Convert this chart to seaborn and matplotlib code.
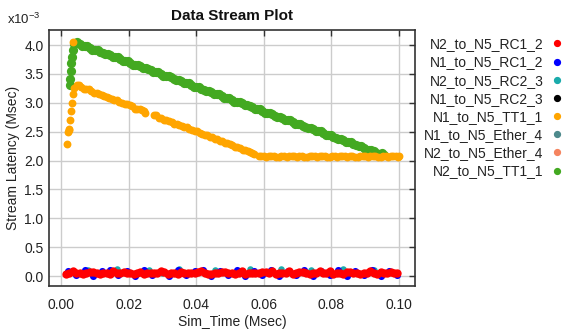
import matplotlib
matplotlib.use("Agg")
import matplotlib.pyplot as plt
import pandas as pd
import seaborn as sns
from matplotlib.lines import Line2D

# ---------------- data (latency in units of 1e-3 Msec) ----------------
streams = ["N2_to_N5_RC1_2", "N1_to_N5_RC1_2", "N2_to_N5_RC2_3", "N1_to_N5_RC2_3",
           "N1_to_N5_TT1_1", "N1_to_N5_Ether_4", "N2_to_N5_Ether_4", "N2_to_N5_TT1_1"]
colors = ["#FF0000", "#0000FF", "#1AABAB", "#000000",
          "#FFA500", "#4E8A8C", "#F5845F", "#43A921"]

green_x = [0.0027, 0.0028, 0.0029, 0.0031, 0.0033, 0.0036, 0.0039,
           0.0041, 0.0055, 0.0070, 0.0085, 0.0100, 0.0115, 0.0130, 0.0145, 0.0160, 0.0175,
           0.0190, 0.0205, 0.0220, 0.0235, 0.0250, 0.0265, 0.0280, 0.0295, 0.0310, 0.0325,
           0.0340, 0.0355, 0.0370, 0.0385, 0.0400, 0.0415, 0.0430, 0.0445, 0.0460, 0.0475,
           0.0490, 0.0505, 0.0520, 0.0535, 0.0550, 0.0565, 0.0580, 0.0595, 0.0610, 0.0625,
           0.0640, 0.0655, 0.0670, 0.0685, 0.0700, 0.0715, 0.0730, 0.0745, 0.0760, 0.0775,
           0.0790, 0.0805, 0.0820, 0.0835, 0.0850, 0.0865, 0.0880, 0.0895, 0.0910, 0.0925,
           0.0940, 0.0955,
           0.0048, 0.0063, 0.0078, 0.0093, 0.0108, 0.0123, 0.0138, 0.0153, 0.0168, 0.0183,
           0.0198, 0.0213, 0.0228, 0.0243, 0.0258, 0.0273, 0.0288, 0.0303, 0.0318, 0.0333,
           0.0348, 0.0363, 0.0378, 0.0393, 0.0408, 0.0423, 0.0438, 0.0453, 0.0468, 0.0483,
           0.0498, 0.0513, 0.0528, 0.0543, 0.0558, 0.0573, 0.0588, 0.0603, 0.0618, 0.0633,
           0.0648, 0.0663, 0.0678, 0.0693, 0.0708, 0.0723, 0.0738, 0.0753, 0.0768, 0.0783,
           0.0798, 0.0813, 0.0828, 0.0843, 0.0858, 0.0873, 0.0888, 0.0903, 0.0918, 0.0933,
           0.0948]
green_y = [3.30, 3.42, 3.55, 3.68, 3.80, 3.92, 4.02,
           4.04, 4.01, 3.98, 3.95, 3.91, 3.88, 3.85, 3.82, 3.79, 3.75,
           3.72, 3.69, 3.66, 3.63, 3.60, 3.56, 3.53, 3.50, 3.47, 3.44,
           3.40, 3.37, 3.34, 3.31, 3.28, 3.24, 3.21, 3.18, 3.15, 3.12,
           3.08, 3.05, 3.02, 2.99, 2.96, 2.92, 2.89, 2.86, 2.83, 2.80,
           2.76, 2.73, 2.70, 2.67, 2.64, 2.60, 2.57, 2.54, 2.51, 2.48,
           2.44, 2.41, 2.38, 2.35, 2.32, 2.28, 2.25, 2.22, 2.19, 2.16,
           2.12, 2.10,
           4.05, 3.98, 3.98, 3.92, 3.92, 3.86, 3.85, 3.79, 3.79, 3.73,
           3.72, 3.66, 3.66, 3.60, 3.59, 3.54, 3.53, 3.47, 3.47, 3.41,
           3.40, 3.34, 3.34, 3.28, 3.27, 3.22, 3.21, 3.15, 3.15, 3.09,
           3.08, 3.02, 3.02, 2.96, 2.95, 2.90, 2.89, 2.83, 2.83, 2.77,
           2.76, 2.70, 2.70, 2.64, 2.63, 2.58, 2.57, 2.51, 2.51, 2.45,
           2.44, 2.39, 2.38, 2.32, 2.32, 2.26, 2.25, 2.19, 2.19, 2.13,
           2.13]

orange_x = [0.0017, 0.0021, 0.0023, 0.0025, 0.0028, 0.0030, 0.0032, 0.0035, 0.0039, 0.0046,
            0.0035,
            0.0060, 0.0075, 0.0090, 0.0105, 0.0120, 0.0135, 0.0150, 0.0165, 0.0180, 0.0195,
            0.0210, 0.0225, 0.0240, 0.0248,
            0.0275, 0.0290, 0.0305, 0.0320, 0.0335, 0.0350, 0.0365, 0.0380, 0.0395, 0.0410,
            0.0425, 0.0440, 0.0455, 0.0470, 0.0485, 0.0500, 0.0515, 0.0530, 0.0545, 0.0560,
            0.0570,
            0.0585, 0.0600, 0.0615, 0.0630, 0.0645, 0.0660, 0.0675, 0.0690, 0.0705, 0.0720,
            0.0735, 0.0750, 0.0765, 0.0780, 0.0795, 0.0810, 0.0825, 0.0840, 0.0855, 0.0870,
            0.0885, 0.0900, 0.0915, 0.0930, 0.0945, 0.0960, 0.0975, 0.0990, 0.1000,
            0.0053, 0.0068, 0.0083, 0.0098, 0.0113, 0.0128, 0.0143, 0.0158, 0.0173, 0.0188,
            0.0203, 0.0218, 0.0233, 0.0244,
            0.0282, 0.0297, 0.0312, 0.0327, 0.0342, 0.0357, 0.0372, 0.0387, 0.0402, 0.0417,
            0.0432, 0.0447, 0.0462, 0.0477, 0.0492, 0.0507, 0.0522, 0.0537, 0.0552, 0.0565,
            0.0592, 0.0607, 0.0622, 0.0637, 0.0652, 0.0667, 0.0682, 0.0697, 0.0712, 0.0727,
            0.0742, 0.0757, 0.0772, 0.0787, 0.0802, 0.0817, 0.0832, 0.0847, 0.0862, 0.0877,
            0.0892, 0.0907, 0.0922, 0.0937, 0.0952, 0.0967, 0.0982, 0.0996]
orange_y = [2.29, 2.50, 2.55, 2.52, 2.70, 2.85, 3.00, 3.15, 3.26, 3.30,
            4.06,
            3.27, 3.24, 3.20, 3.17, 3.14, 3.10, 3.07, 3.04, 3.00, 2.97,
            2.94, 2.90, 2.87, 2.83,
            2.78, 2.74, 2.71, 2.68, 2.64, 2.61, 2.58, 2.54, 2.51, 2.48,
            2.44, 2.41, 2.38, 2.34, 2.31, 2.28, 2.24, 2.21, 2.18, 2.14,
            2.12,
            2.07, 2.07, 2.08, 2.07, 2.06, 2.07, 2.08, 2.07, 2.07, 2.06,
            2.07, 2.08, 2.07, 2.07, 2.06, 2.07, 2.08, 2.07, 2.07, 2.06,
            2.07, 2.08, 2.07, 2.07, 2.06, 2.07, 2.08, 2.07, 2.07,
            3.30, 3.24, 3.23, 3.17, 3.16, 3.11, 3.09, 3.04, 3.02, 2.97,
            2.96, 2.90, 2.89, 2.85,
            2.78, 2.73, 2.71, 2.66, 2.64, 2.60, 2.58, 2.53, 2.51, 2.46,
            2.44, 2.40, 2.37, 2.33, 2.31, 2.26, 2.24, 2.19, 2.17, 2.13,
            2.08, 2.06, 2.08, 2.06, 2.08, 2.06, 2.08, 2.06, 2.08, 2.06,
            2.08, 2.06, 2.08, 2.06, 2.08, 2.06, 2.08, 2.06, 2.08, 2.06,
            2.08, 2.06, 2.08, 2.06, 2.08, 2.06, 2.08, 2.06]

red_x = [0.0015, 0.0035, 0.0055, 0.0075, 0.0095, 0.0115, 0.0135, 0.0155, 0.0175, 0.0195,
         0.0215, 0.0235, 0.0255, 0.0275, 0.0295, 0.0315, 0.0335, 0.0355, 0.0375, 0.0395,
         0.0415, 0.0435, 0.0455, 0.0475, 0.0495, 0.0515, 0.0535, 0.0555, 0.0575, 0.0595,
         0.0615, 0.0635, 0.0655, 0.0675, 0.0695, 0.0715, 0.0735, 0.0755, 0.0775, 0.0795,
         0.0815, 0.0835, 0.0855, 0.0875, 0.0895, 0.0915, 0.0935, 0.0955, 0.0975, 0.0995,
         0.0025, 0.0045, 0.0065, 0.0085, 0.0105, 0.0125, 0.0145, 0.0165, 0.0185, 0.0205,
         0.0225, 0.0245, 0.0265, 0.0285, 0.0305, 0.0325, 0.0345, 0.0365, 0.0385, 0.0405,
         0.0425, 0.0445, 0.0465, 0.0485, 0.0505, 0.0525, 0.0545, 0.0565, 0.0585, 0.0605,
         0.0625, 0.0645, 0.0665, 0.0685, 0.0705, 0.0725, 0.0745, 0.0765, 0.0785, 0.0805,
         0.0825, 0.0845, 0.0865, 0.0885, 0.0905, 0.0925, 0.0945, 0.0965, 0.0985]
red_y = [0.04, 0.08, 0.06, 0.05, 0.07, 0.04, 0.06, 0.08, 0.05, 0.06,
         0.04, 0.07, 0.06, 0.05, 0.08, 0.04, 0.06, 0.07, 0.05, 0.06,
         0.08, 0.04, 0.05, 0.07, 0.06, 0.04, 0.08, 0.06, 0.05, 0.07,
         0.06, 0.04, 0.05, 0.08, 0.06, 0.07, 0.04, 0.06, 0.05, 0.09,
         0.06, 0.04, 0.07, 0.05, 0.06, 0.08, 0.04, 0.06, 0.07, 0.05,
         0.06, 0.05, 0.04, 0.07, 0.06, 0.05, 0.03, 0.06, 0.07, 0.05,
         0.06, 0.04, 0.06, 0.05, 0.07, 0.06, 0.04, 0.05, 0.06, 0.07,
         0.05, 0.04, 0.06, 0.07, 0.05, 0.06, 0.04, 0.06, 0.05, 0.07,
         0.08, 0.05, 0.06, 0.04, 0.07, 0.06, 0.05, 0.09, 0.06, 0.04,
         0.06, 0.07, 0.05, 0.04, 0.06, 0.05, 0.07, 0.05, 0.06]

blue_x = [0.0020, 0.0045, 0.0070, 0.0095, 0.0120, 0.0145, 0.0170, 0.0195, 0.0220, 0.0245,
          0.0270, 0.0295, 0.0320, 0.0345, 0.0370, 0.0395, 0.0420, 0.0445, 0.0470, 0.0495,
          0.0520, 0.0545, 0.0570, 0.0595, 0.0620, 0.0645, 0.0670, 0.0695, 0.0720, 0.0745,
          0.0770, 0.0795, 0.0820, 0.0845, 0.0870, 0.0895, 0.0920, 0.0945, 0.0970, 0.0995]
blue_y = [0.09, 0.01, 0.10, 0.00, 0.08, 0.10, 0.01, 0.09, 0.00, 0.10,
          0.02, 0.09, 0.00, 0.10, 0.01, 0.09, 0.10, 0.00, 0.09, 0.01,
          0.10, 0.00, 0.09, 0.01, 0.10, 0.00, 0.09, 0.01, 0.10, 0.00,
          0.09, 0.01, 0.10, 0.00, 0.09, 0.01, 0.10, 0.00, 0.09, 0.01]

cyan_x = [0.0080, 0.0165, 0.0260, 0.0350, 0.0455, 0.0560, 0.0650, 0.0740, 0.0835, 0.0925]
cyan_y = [0.11, 0.12, 0.11, 0.12, 0.11, 0.12, 0.12, 0.11, 0.12, 0.11]

black_x = [0.0200, 0.0500, 0.0800]
black_y = [0.05, 0.05, 0.05]
teal_x = [0.0300, 0.0600, 0.0900]
teal_y = [0.05, 0.05, 0.05]
salmon_x = [0.0100, 0.0400, 0.0700]
salmon_y = [0.05, 0.05, 0.05]

series_x = [red_x, blue_x, cyan_x, black_x, orange_x, teal_x, salmon_x, green_x]
series_y = [red_y, blue_y, cyan_y, black_y, orange_y, teal_y, salmon_y, green_y]
sizes = [36, 26, 22, 22, 32, 22, 22, 44]

x_ticks = [0.00, 0.02, 0.04, 0.06, 0.08, 0.10]
x_tick_labels = ["0.00", "0.02", "0.04", "0.06", "0.08", "0.10"]
y_ticks = [0.0, 0.5, 1.0, 1.5, 2.0, 2.5, 3.0, 3.5, 4.0]
y_tick_labels = ["0.0", "0.5", "1.0", "1.5", "2.0", "2.5", "3.0", "3.5", "4.0"]

# ---------------- plot ----------------
sns.set_theme(style="white")
plt.rcParams["font.family"] = ["Liberation Sans", "DejaVu Sans"]
plt.rcParams["mathtext.default"] = "regular"
txt = "#222222"

fig = plt.figure(figsize=(5.67, 3.32), dpi=100)
ax = fig.add_axes([49 / 567, 46 / 332, 366 / 567, 256 / 332])

# draw in reverse legend order so red ends on top, green at the bottom
for i in reversed(range(len(streams))):
    df = pd.DataFrame({"Sim_Time": series_x[i], "Latency": series_y[i]})
    sns.scatterplot(data=df, x="Sim_Time", y="Latency", ax=ax, color=colors[i],
                    s=sizes[i], linewidth=0, legend=False, zorder=3)

ax.set_xlim(-0.00355, 0.1047)
ax.set_ylim(-0.173, 4.26)
ax.set_xticks(x_ticks)
ax.set_xticklabels(x_tick_labels)
ax.set_yticks(y_ticks)
ax.set_yticklabels(y_tick_labels)
ax.grid(True, color="#cccccc", linewidth=1.0, zorder=0)
ax.set_axisbelow(True)
for sp in ax.spines.values():
    sp.set_color("#333333")
    sp.set_linewidth(1.2)
ax.tick_params(axis="both", direction="in", length=4.5, width=1, color="#333333",
               top=True, right=True, labelsize=10, labelcolor=txt)
ax.tick_params(axis="x", pad=8.5)
ax.tick_params(axis="y", pad=4)

ax.set_xlabel("Sim_Time (Msec)", fontsize=10, color=txt, labelpad=2)
ax.set_ylabel("Stream Latency (Msec)", fontsize=10, color=txt, labelpad=3)
ax.set_title("Data Stream Plot", fontsize=11, fontweight="bold", color="#111111", pad=7)

fig.text(7 / 567, 1 - 24 / 332, "x10$^{-3}$", fontsize=9.5, color=txt, ha="left", va="baseline")

handles = [Line2D([], [], marker="o", linestyle="", color=c, markersize=4.2) for c in colors]
fig.legend(handles, streams, loc="upper right", bbox_to_anchor=(569 / 567, 1 - 29 / 332),
           frameon=False, markerfirst=False, fontsize=10, labelspacing=0.3,
           handletextpad=0.75, borderpad=0.1, handlelength=0.5, labelcolor=txt)

fig.savefig("out.png", dpi=100)
